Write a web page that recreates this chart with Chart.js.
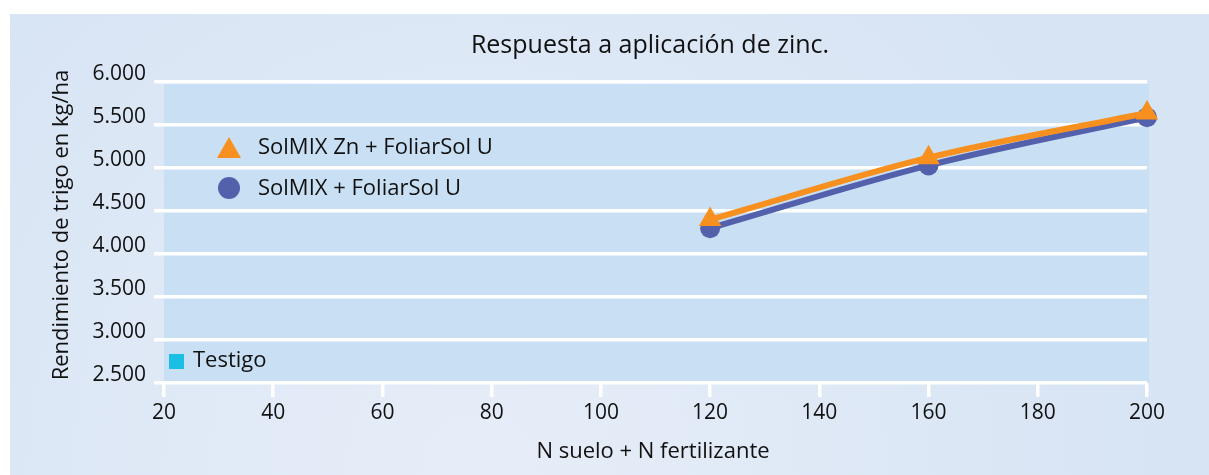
<!DOCTYPE html>
<html>
<head>
<meta charset="utf-8">
<script src="https://cdn.jsdelivr.net/npm/chart.js@4"></script>
<style>
  html, body { margin: 0; padding: 0; background: #fff; }
  #wrap { width: 1209px; height: 475px; }
</style>
</head>
<body>
<div id="wrap"><canvas id="zincChart" width="1209" height="475"></canvas></div>
<script>
// datos
const nLevels = [120, 160, 200];
const solmixZn = [4400, 5120, 5640];   // SolMIX Zn + FoliarSol U
const solmix = [4300, 5030, 5590];     // SolMIX + FoliarSol U
const testigo = [];                    // Testigo (sin puntos)
const seriesNames = ["SolMIX Zn + FoliarSol U", "SolMIX + FoliarSol U", "Testigo"];
const yTicks = [2500, 3000, 3500, 4000, 4500, 5000, 5500, 6000];
const xTicks = [20, 40, 60, 80, 100, 120, 140, 160, 180, 200];

const FONT = "'Open Sans', 'Noto Sans', sans-serif";
const ORANGE = "#f7901e";
const BLUE = "#5361ac";
const CYAN = "#1bbfe3";

function fmt(v) {
  return v >= 1000 ? Math.floor(v / 1000) + "." + String(v % 1000).padStart(3, "0") : String(v);
}

// fondo del panel y del area del grafico
const backgroundPlugin = {
  id: "panelBg",
  beforeDraw(chart) {
    const c = chart.ctx;
    const a = chart.chartArea;
    c.save();
    c.fillStyle = "#fff";
    c.fillRect(0, 0, chart.width, chart.height);
    const g = c.createRadialGradient(480, 470, 20, 480, 470, 700);
    g.addColorStop(0, "#e6edf8");
    g.addColorStop(1, "#d7e4f4");
    c.fillStyle = g;
    c.fillRect(10, 14, chart.width - 10, chart.height - 14);
    c.fillStyle = "#c9dff3";
    c.fillRect(a.left, a.top + 2, a.right - a.left + 2, a.bottom - a.top - 2);
    c.restore();
  }
};

// titulos y leyenda
const textPlugin = {
  id: "texts",
  afterDraw(chart) {
    const c = chart.ctx;
    c.save();
    c.fillStyle = "#111";
    c.textBaseline = "middle";
    c.textAlign = "center";
    c.font = "25px " + FONT;
    c.fillText("Respuesta a aplicación de zinc.", 650, 46);
    c.font = "22px " + FONT;
    c.fillText("N suelo + N fertilizante", 653, 452);
    c.save();
    c.translate(62, 225);
    c.rotate(-Math.PI / 2);
    c.fillText("Rendimiento de trigo en kg/ha", 0, 0);
    c.restore();

    // leyenda
    c.textAlign = "left";
    c.font = "22px " + FONT;
    // triangulo
    c.fillStyle = ORANGE;
    c.beginPath();
    c.moveTo(229, 137);
    c.lineTo(241, 158);
    c.lineTo(217, 158);
    c.closePath();
    c.fill();
    c.fillStyle = "#111";
    c.fillText(seriesNames[0], 258, 148);
    // circulo
    c.fillStyle = BLUE;
    c.beginPath();
    c.arc(229, 188, 11, 0, Math.PI * 2);
    c.fill();
    c.fillStyle = "#111";
    c.fillText(seriesNames[1], 258, 189);
    // cuadrado
    c.fillStyle = CYAN;
    c.fillRect(169, 354, 15, 15);
    c.fillStyle = "#111";
    c.fillText(seriesNames[2], 193, 361);
    c.restore();
  }
};

const ctx = document.getElementById("zincChart").getContext("2d");
const chart = new Chart(ctx, {
  type: "line",
  data: {
    datasets: [
      {
        label: seriesNames[0],
        data: nLevels.map((x, i) => ({ x: x, y: solmixZn[i] })),
        borderColor: ORANGE,
        backgroundColor: ORANGE,
        borderWidth: 6,
        pointStyle: "triangle",
        pointRadius: 13,
        pointBorderWidth: 0,
        cubicInterpolationMode: "monotone",
        clip: false
      },
      {
        label: seriesNames[1],
        data: nLevels.map((x, i) => ({ x: x, y: solmix[i] })),
        borderColor: BLUE,
        backgroundColor: BLUE,
        borderWidth: 6,
        pointStyle: "circle",
        pointRadius: 10,
        pointBorderWidth: 0,
        cubicInterpolationMode: "monotone",
        clip: false
      },
      {
        label: seriesNames[2],
        data: testigo,
        borderColor: CYAN,
        backgroundColor: CYAN,
        pointStyle: "rect"
      }
    ]
  },
  options: {
    responsive: false,
    animation: false,
    layout: { padding: { left: 10, right: 62, top: 82, bottom: 0 } },
    plugins: {
      legend: { display: false },
      title: { display: false },
      tooltip: { enabled: false }
    },
    scales: {
      x: {
        type: "linear",
        min: xTicks[0],
        max: xTicks[xTicks.length - 1],
        afterBuildTicks(scale) { scale.ticks = xTicks.map(v => ({ value: v })); },
        afterFit(scale) { scale.height = 92; },
        grid: { drawOnChartArea: false, drawTicks: true, tickLength: 14, color: "#fff", lineWidth: 3.5 },
        border: { display: false },
        ticks: { color: "#111", font: { size: 21, family: FONT }, padding: 3, maxRotation: 0 }
      },
      y: {
        min: yTicks[0],
        max: yTicks[yTicks.length - 1],
        afterBuildTicks(scale) { scale.ticks = yTicks.map(v => ({ value: v })); },
        afterFit(scale) { scale.width = 154; },
        grid: { color: "#fff", lineWidth: 3.5, tickLength: 10, drawTicks: true },
        border: { display: false },
        ticks: { color: "#111", font: { size: 21, family: FONT }, padding: 8, labelOffset: -8, callback: v => fmt(v) }
      }
    }
  },
  plugins: [backgroundPlugin, textPlugin]
});
</script>
</body>
</html>
